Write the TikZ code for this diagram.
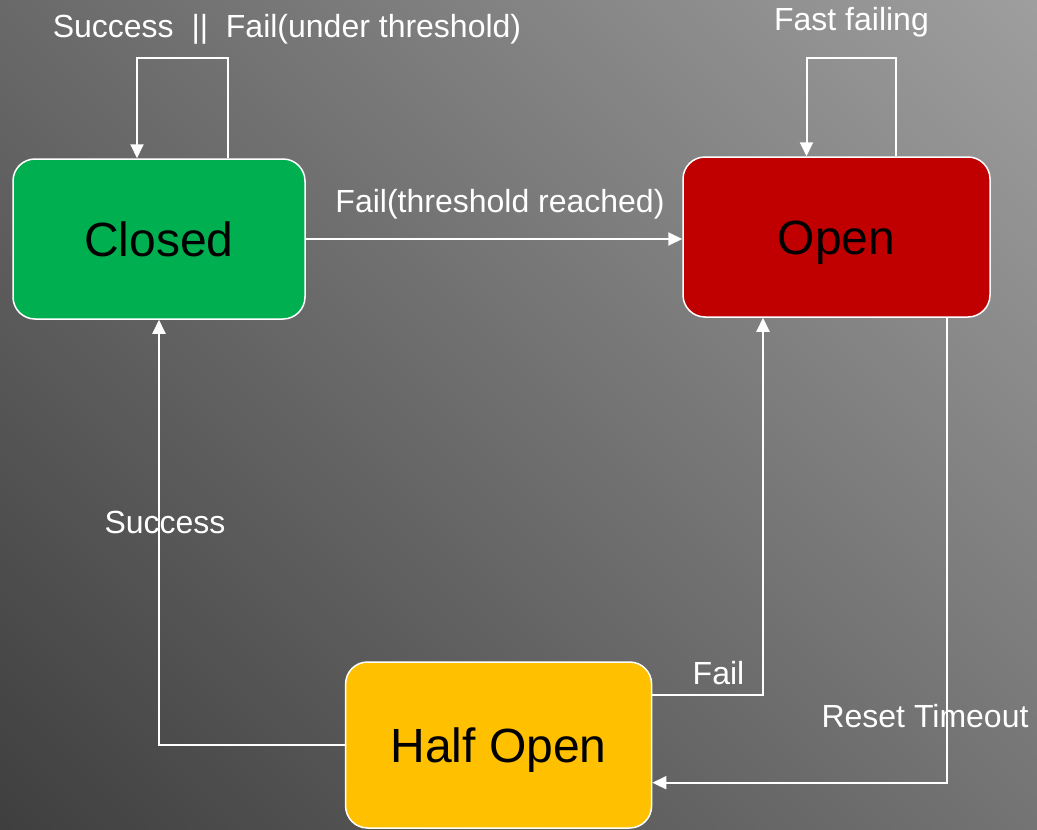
\documentclass[tikz,border=0pt]{standalone}
\usepackage{fontspec}
\setmainfont{Liberation Sans}
\usetikzlibrary{arrows.meta}
\definecolor{closedgreen}{HTML}{00B050}
\definecolor{openred}{HTML}{C00000}
\definecolor{halfyellow}{HTML}{FFC000}
\definecolor{bgdark}{HTML}{3F3F3F}
\definecolor{bglight}{HTML}{9E9E9E}
\pgfdeclarehorizontalshading{bgshade}{100bp}{color(0bp)=(bgdark); color(14.6bp)=(bgdark); color(85.4bp)=(bglight); color(100bp)=(bglight)}
\begin{document}
\begin{tikzpicture}[x=1pt,y=-1pt,
  state/.style={draw=white, line width=1.5pt, rounded corners=22pt, inner sep=0pt,
    font=\fontsize{48}{52}\selectfont, text=black, text height=34pt, text depth=0pt},
  conn/.style={draw=white, line width=2pt, -{Triangle[length=14pt,width=13pt]}},
  lbl/.style={text=white, inner sep=0pt, font=\fontsize{32}{36}\selectfont,
    text height=23pt, text depth=0pt}]
\shade[shading=bgshade, shading angle=45] (0,0) rectangle (1037,830);
\useasboundingbox (0,0) rectangle (1037,830);

\node[state, fill=closedgreen, minimum width=292pt, minimum height=160pt] (closed) at (159,239) {Closed};
\node[state, fill=openred, minimum width=307pt, minimum height=160pt] (open) at (836.5,237) {Open};
\node[state, fill=halfyellow, minimum width=306pt, minimum height=166pt] (half) at (498.6,745) {Half Open};

% self loop on Closed
\coordinate (looptop) at (0,58);
\coordinate (cA) at ([xshift=68.5pt]closed.north);
\coordinate (cB) at ([xshift=-22pt]closed.north);
\draw[conn] (cA) -- (cA |- looptop) -- (cB |- looptop) -- (cB);

% self loop on Open
\coordinate (oA) at ([xshift=59.5pt]open.north);
\coordinate (oB) at ([xshift=-30pt]open.north);
\draw[conn] (oA) -- (oA |- looptop) -- (oB |- looptop) -- (oB);

% Closed -> Open
\draw[conn] (closed.east) -- (closed.east -| open.west);

% Half Open -> Closed
\draw[conn] (half.west) -| (closed.south);

% Half Open -> Open (Fail)
\coordinate (hF) at ([yshift=50pt]half.east);
\coordinate (oF) at ([xshift=-73.5pt]open.south);
\draw[conn] (hF) -| (oF);

% Open -> Half Open (Reset Timeout)
\coordinate (oR) at ([xshift=110pt]open.south);
\coordinate (hR) at ([yshift=-37.7pt]half.east);
\draw[conn] (oR) |- (hR);

% labels
\node[lbl] (l1) at (287,26) {Success\ \ ||\ \ Fail(under threshold)};
\node[lbl] (l2) at (851.5,18.5) {Fast failing};
\node[lbl] (l3) at (500,200.5) {Fail(threshold reached)};
\node[lbl] (l4) at (165,522) {Success};
\node[lbl] (l5) at (718.5,672.5) {Fail};
\node[lbl] (l6) at (925,716) {Reset Timeout};
\end{tikzpicture}
\end{document}
